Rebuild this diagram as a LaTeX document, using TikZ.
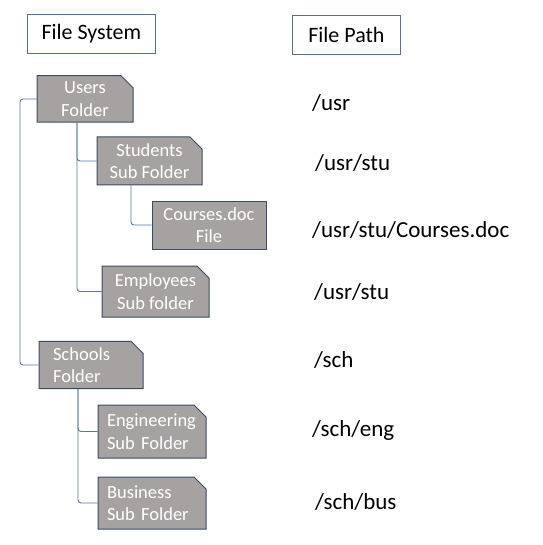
\documentclass[tikz,border=0pt]{standalone}
\usepackage{fontspec}
\setmainfont{Carlito}
\usetikzlibrary{shapes.misc}
\definecolor{boxfill}{RGB}{166,162,162}
\definecolor{boxline}{RGB}{60,74,100}
\definecolor{hdrline}{RGB}{84,112,145}
\definecolor{connline}{RGB}{88,118,160}
\tikzset{
  hdr/.style={draw=hdrline, line width=0.8pt, fill=white, rectangle, inner sep=0pt,
    font=\fontsize{22}{26}\selectfont, anchor=north west},
  folder/.style={chamfered rectangle, chamfered rectangle corners=north east,
    chamfered rectangle xsep=6pt, chamfered rectangle ysep=6pt,
    draw=boxline, line width=1pt, fill=boxfill, text=white, inner sep=0pt,
    font=\fontsize{18.5}{22.5}\selectfont},
  filebox/.style={rectangle, draw=boxline, line width=1pt, fill=boxfill, text=white, inner sep=0pt,
    font=\fontsize{18.5}{22.5}\selectfont},
  pathtxt/.style={font=\fontsize{23}{27}\selectfont, anchor=west, inner sep=0pt},
  conn/.style={draw=connline, line width=0.9pt, rounded corners=3pt}
}
\begin{document}
\begin{tikzpicture}[x=1pt,y=-1pt]
\useasboundingbox (0,0) rectangle (542,545);
% headers
\node[hdr, minimum width=128pt, minimum height=39pt] (fs) at (27,14) {File System};
\node[hdr, minimum width=108pt, minimum height=39pt] (fp) at (292,15) {File Path};
% folders
\node[folder, minimum width=96pt, minimum height=46pt, align=center] (users) at (85,99) {Users\\Folder};
\node[folder, minimum width=105pt, minimum height=48pt, align=center] (stud) at (149.5,161) {Students\\Sub Folder};
\node[filebox, minimum width=114pt, minimum height=48pt, align=center] (course) at (209,225) {Courses.doc\\File};
\node[folder, minimum width=107pt, minimum height=51pt, align=center] (emp) at (155.5,291.5) {Employees\\Sub folder};
\node[folder, minimum width=104pt, minimum height=46pt, align=left, text width=76pt] (sch) at (91,365) {Schools\\Folder};
\node[folder, minimum width=108pt, minimum height=53pt, align=left, text width=90pt] (eng) at (152,431.5) {Engineering\\Sub Folder};
\node[folder, minimum width=108pt, minimum height=52pt, align=left, text width=90pt] (bus) at (152,503) {Business\\Sub Folder};
% paths
\node[pathtxt] (p1) at (312,103) {/usr};
\node[pathtxt] (p2) at (315,163) {/usr/stu};
\node[pathtxt] (p3) at (312,230) {/usr/stu/Courses.doc};
\node[pathtxt] (p4) at (314,292) {/usr/stu};
\node[pathtxt] (p5) at (314,360) {/sch};
\node[pathtxt] (p6) at (312,430) {/sch/eng};
\node[pathtxt] (p7) at (315,502) {/sch/bus};
% connectors
\coordinate (ul) at (20,0);
\draw[conn] (users.west) -| (ul |- sch.west) -- (sch.west);
\coordinate (ub) at (77,0);
\draw[conn] (ub |- users.south) |- (stud.west);
\draw[conn] (ub |- users.south) |- (emp.west);
\coordinate (sb) at (131,0);
\draw[conn] (sb |- stud.south) |- (course.west);
\coordinate (scb) at (78,0);
\draw[conn] (scb |- sch.south) |- (eng.west);
\draw[conn] (scb |- sch.south) |- (bus.west);
\end{tikzpicture}
\end{document}
